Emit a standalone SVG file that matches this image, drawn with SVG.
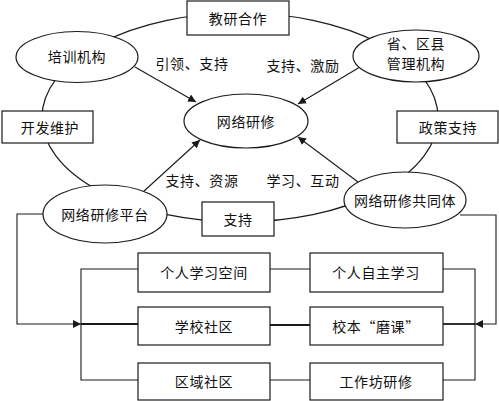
<svg xmlns="http://www.w3.org/2000/svg" width="499" height="401" viewBox="0 0 499 401">
<style>
.shape{fill:#fff;stroke:#1a1a1a;stroke-width:1.2}
.ring{fill:none;stroke:#1a1a1a;stroke-width:1.2}
.line{fill:none;stroke:#1a1a1a;stroke-width:1.1}
.thick{fill:none;stroke:#1a1a1a;stroke-width:1.8}
text{font-family:"Noto Sans CJK SC","Noto Sans CJK JP",sans-serif;font-size:14px;fill:#111;text-anchor:middle;dominant-baseline:central;letter-spacing:0.6px}
</style>
<defs>
<marker id="arr" viewBox="0 0 10 10" refX="10" refY="5" markerWidth="8" markerHeight="8" markerUnits="userSpaceOnUse" orient="auto">
<path d="M0,0 L10,5 L0,10 z" fill="#1a1a1a"/>
</marker>
</defs>
<rect width="499" height="401" fill="#fff"/>
<g id="connectors">
<ellipse class="ring" cx="240" cy="117.5" rx="198" ry="104.5"/>
<line class="line" x1="135" y1="67" x2="196" y2="102" marker-end="url(#arr)"/>
<line class="line" x1="360" y1="67" x2="298" y2="104" marker-end="url(#arr)"/>
<line class="line" x1="143" y1="192" x2="200" y2="140" marker-end="url(#arr)"/>
<line class="line" x1="358" y1="182" x2="298" y2="137" marker-end="url(#arr)"/>
<polyline class="line" points="43,214 17,214 17,324 81,324" marker-end="url(#arr)"/>
<polyline class="line" points="138,269 81,269 81,380 138,380"/>
<line class="thick" x1="81" y1="324" x2="138" y2="324"/>
<polyline class="line" points="460,215 496,215 496,324 475,324" marker-end="url(#arr)"/>
<polyline class="line" points="443,269 475,269 475,380 443,380"/>
<line class="thick" x1="443" y1="324" x2="475" y2="324"/>
<line class="line" x1="270" y1="269" x2="310" y2="269"/>
<line class="thick" x1="270" y1="325" x2="310" y2="325"/>
<line class="line" x1="270" y1="380" x2="310" y2="380"/>
<text x="192" y="63">引领、支持</text>
<text x="303" y="65">支持、激励</text>
<text x="202" y="180">支持、资源</text>
<text x="303" y="180">学习、互动</text>
</g>
<g id="jiaoyan"><rect class="shape" x="187" y="1" width="102" height="34"/><text x="238" y="18">教研合作</text></g>
<g id="peixun"><ellipse class="shape" cx="77" cy="57" rx="61" ry="25.5"/><text x="77" y="56">培训机构</text></g>
<g id="guanli"><ellipse class="shape" cx="416" cy="56" rx="63" ry="26"/><text x="416" y="43" font-size="13.5">省、区县</text><text x="416" y="63" font-size="13.5">管理机构</text></g>
<g id="center"><ellipse class="shape" cx="246" cy="121" rx="62" ry="27"/><text x="246" y="121">网络研修</text></g>
<g id="kaifa"><rect class="shape" x="2" y="111" width="91" height="32"/><text x="50" y="127">开发维护</text></g>
<g id="zhengce"><rect class="shape" x="397" y="111" width="101" height="32"/><text x="448" y="127">政策支持</text></g>
<g id="pingtai"><ellipse class="shape" cx="105" cy="214" rx="62" ry="29"/><text x="105" y="214">网络研修平台</text></g>
<g id="zhichi"><rect class="shape" x="202" y="202" width="72" height="34"/><text x="238" y="219">支持</text></g>
<g id="gongtongti"><ellipse class="shape" cx="405" cy="200" rx="61" ry="28"/><text x="405" y="200">网络研修共同体</text></g>
<g id="geren-kongjian"><rect class="shape" x="138" y="253" width="132" height="39"/><text x="204" y="272">个人学习空间</text></g>
<g id="xuexiao"><rect class="shape" x="138" y="307" width="132" height="38"/><text x="204" y="326">学校社区</text></g>
<g id="quyu"><rect class="shape" x="138" y="363" width="132" height="37"/><text x="204" y="381">区域社区</text></g>
<g id="zizhu"><rect class="shape" x="310" y="253" width="133" height="39"/><text x="376" y="272">个人自主学习</text></g>
<g id="moke"><rect class="shape" x="310" y="307" width="133" height="38"/><text x="376" y="326">校本“磨课”</text></g>
<g id="gongzuofang"><rect class="shape" x="310" y="363" width="133" height="37"/><text x="376" y="381">工作坊研修</text></g>
</svg>
